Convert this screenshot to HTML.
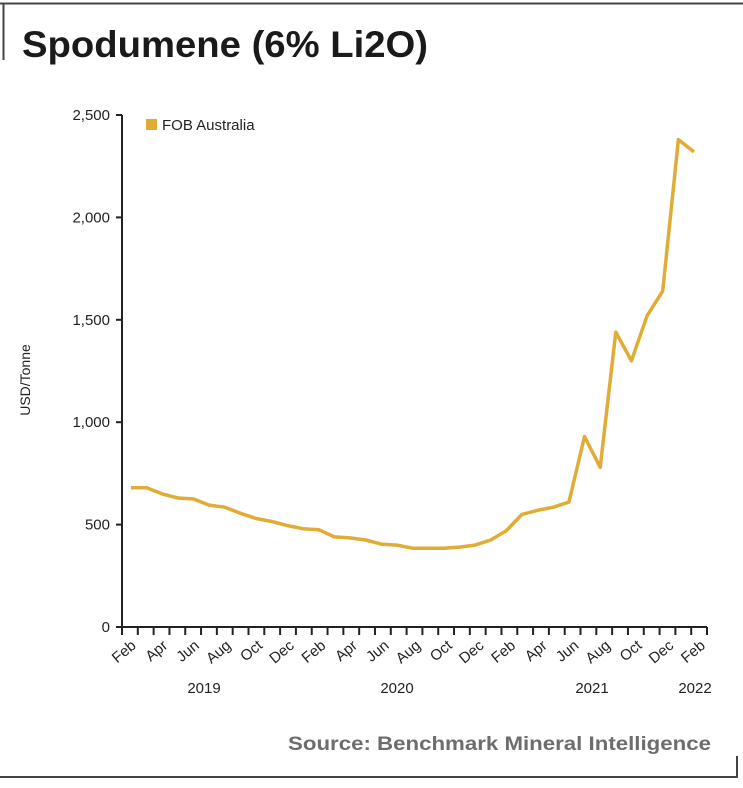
<!DOCTYPE html>
<html><head><meta charset="utf-8"><style>
body{margin:0;background:#fff;width:743px;height:783px;overflow:hidden}
text{font-family:"Liberation Sans",sans-serif}
</style></head><body>
<svg id="s" width="743" height="783" xmlns="http://www.w3.org/2000/svg">
<line x1="0" y1="3.5" x2="743" y2="3.5" stroke="#444" stroke-width="2"/>
<line x1="3.5" y1="3" x2="3.5" y2="60" stroke="#444" stroke-width="2"/>
<line x1="0" y1="777" x2="737" y2="777" stroke="#444" stroke-width="2"/>
<line x1="737" y1="756" x2="737" y2="778" stroke="#444" stroke-width="2"/>
<text x="22" y="57" font-size="37" font-weight="bold" fill="#1a1a1a" textLength="406" lengthAdjust="spacingAndGlyphs">Spodumene (6% Li2O)</text>
<text x="288" y="750" font-size="19" font-weight="bold" fill="#6d6d6d" textLength="423" lengthAdjust="spacingAndGlyphs">Source: Benchmark Mineral Intelligence</text>
<text transform="translate(30,380) rotate(-90)" font-size="14" fill="#222" text-anchor="middle">USD/Tonne</text>
<rect x="146" y="119" width="11" height="11" fill="#e0ac35"/>
<text x="162" y="130" font-size="15" fill="#222">FOB Australia</text>
<g id="g"></g>
</svg>
<script>
var g=document.getElementById('g'),h='';
var x0=122,x1=707,y0=627,sc=512/2500;
h+='<line x1="'+x0+'" y1="115" x2="'+x0+'" y2="'+y0+'" stroke="#222" stroke-width="2"/>';
h+='<line x1="'+x0+'" y1="'+y0+'" x2="'+x1+'" y2="'+y0+'" stroke="#222" stroke-width="2"/>';
[0,500,1000,1500,2000,2500].forEach(function(v){var y=y0-v*sc;
h+='<line x1="'+(x0-6)+'" y1="'+y+'" x2="'+x0+'" y2="'+y+'" stroke="#222" stroke-width="2"/>';
h+='<text x="'+(x0-12)+'" y="'+(y+5)+'" font-size="15" fill="#222" text-anchor="end">'+v.toLocaleString('en-US')+'</text>';});
var d=[680,680,650,630,625,595,585,555,530,515,495,480,475,440,435,425,405,400,385,385,385,390,400,425,470,550,570,585,610,930,780,1440,1300,1520,1640,2380,2320];
var n=d.length,w=(x1-x0)/n;
for(var i=0;i<=n;i++){var x=x0+i*w;h+='<line x1="'+x+'" y1="'+y0+'" x2="'+x+'" y2="'+(y0+8)+'" stroke="#222" stroke-width="2"/>';}
var m=['Feb','Apr','Jun','Aug','Oct','Dec'];
for(var i=0;i<n;i+=2){var x=x0+(i+0.5)*w+7,y=y0+20;
h+='<text transform="translate('+x+','+y+') rotate(-40)" font-size="15" fill="#222" text-anchor="end">'+m[(i/2)%6]+'</text>';}
[[204,'2019'],[397,'2020'],[592,'2021'],[695,'2022']].forEach(function(a){h+='<text x="'+a[0]+'" y="693" font-size="15" fill="#222" text-anchor="middle">'+a[1]+'</text>';});
var p=d.map(function(v,i){return (x0+9+i*((694-131)/(n-1))).toFixed(1)+','+(y0-v*sc).toFixed(1)}).join(' ');
h+='<polyline points="'+p+'" fill="none" stroke="#e0ac35" stroke-width="3.5" stroke-linejoin="round"/>';
g.innerHTML=h;
</script>
</body></html>
